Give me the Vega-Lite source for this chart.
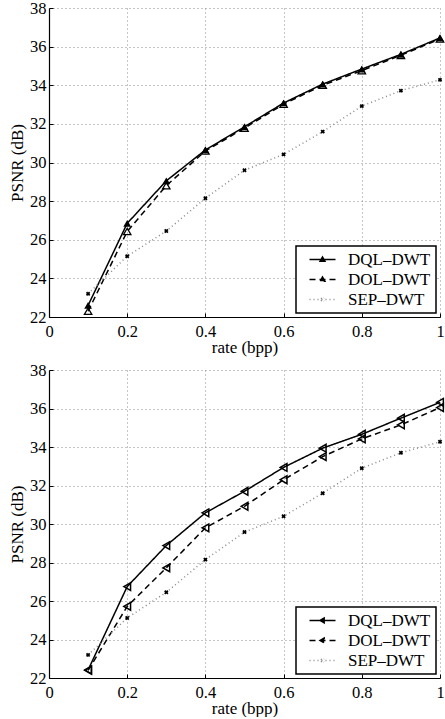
{
  "$schema": "https://vega.github.io/schema/vega-lite/v6.json",
  "padding": {"left": 8, "top": 0, "right": 0, "bottom": 0},
  "spacing": 6,
  "datasets": {
    "d": [
      {"panel": "a", "series": "DQL–DWT", "rate": 0.1, "psnr": 22.6},
      {"panel": "a", "series": "DQL–DWT", "rate": 0.2, "psnr": 26.85},
      {"panel": "a", "series": "DQL–DWT", "rate": 0.3, "psnr": 29.05},
      {"panel": "a", "series": "DQL–DWT", "rate": 0.4, "psnr": 30.65},
      {"panel": "a", "series": "DQL–DWT", "rate": 0.5, "psnr": 31.85},
      {"panel": "a", "series": "DQL–DWT", "rate": 0.6, "psnr": 33.08},
      {"panel": "a", "series": "DQL–DWT", "rate": 0.7, "psnr": 34.06},
      {"panel": "a", "series": "DQL–DWT", "rate": 0.8, "psnr": 34.84},
      {"panel": "a", "series": "DQL–DWT", "rate": 0.9, "psnr": 35.6},
      {"panel": "a", "series": "DQL–DWT", "rate": 1.0, "psnr": 36.45},
      {"panel": "a", "series": "DOL–DWT", "rate": 0.1, "psnr": 22.3},
      {"panel": "a", "series": "DOL–DWT", "rate": 0.2, "psnr": 26.43},
      {"panel": "a", "series": "DOL–DWT", "rate": 0.3, "psnr": 28.8},
      {"panel": "a", "series": "DOL–DWT", "rate": 0.4, "psnr": 30.6},
      {"panel": "a", "series": "DOL–DWT", "rate": 0.5, "psnr": 31.78},
      {"panel": "a", "series": "DOL–DWT", "rate": 0.6, "psnr": 33.02},
      {"panel": "a", "series": "DOL–DWT", "rate": 0.7, "psnr": 34.0},
      {"panel": "a", "series": "DOL–DWT", "rate": 0.8, "psnr": 34.76},
      {"panel": "a", "series": "DOL–DWT", "rate": 0.9, "psnr": 35.55},
      {"panel": "a", "series": "DOL–DWT", "rate": 1.0, "psnr": 36.4},
      {"panel": "a", "series": "SEP–DWT", "rate": 0.1, "psnr": 23.2},
      {"panel": "a", "series": "SEP–DWT", "rate": 0.2, "psnr": 25.15},
      {"panel": "a", "series": "SEP–DWT", "rate": 0.3, "psnr": 26.45},
      {"panel": "a", "series": "SEP–DWT", "rate": 0.4, "psnr": 28.15},
      {"panel": "a", "series": "SEP–DWT", "rate": 0.5, "psnr": 29.6},
      {"panel": "a", "series": "SEP–DWT", "rate": 0.6, "psnr": 30.42},
      {"panel": "a", "series": "SEP–DWT", "rate": 0.7, "psnr": 31.6},
      {"panel": "a", "series": "SEP–DWT", "rate": 0.8, "psnr": 32.92},
      {"panel": "a", "series": "SEP–DWT", "rate": 0.9, "psnr": 33.72},
      {"panel": "a", "series": "SEP–DWT", "rate": 1.0, "psnr": 34.28},
      {"panel": "b", "series": "DQL–DWT", "rate": 0.1, "psnr": 22.42},
      {"panel": "b", "series": "DQL–DWT", "rate": 0.2, "psnr": 26.75},
      {"panel": "b", "series": "DQL–DWT", "rate": 0.3, "psnr": 28.88},
      {"panel": "b", "series": "DQL–DWT", "rate": 0.4, "psnr": 30.58},
      {"panel": "b", "series": "DQL–DWT", "rate": 0.5, "psnr": 31.7},
      {"panel": "b", "series": "DQL–DWT", "rate": 0.6, "psnr": 32.94},
      {"panel": "b", "series": "DQL–DWT", "rate": 0.7, "psnr": 33.94},
      {"panel": "b", "series": "DQL–DWT", "rate": 0.8, "psnr": 34.66},
      {"panel": "b", "series": "DQL–DWT", "rate": 0.9, "psnr": 35.5},
      {"panel": "b", "series": "DQL–DWT", "rate": 1.0, "psnr": 36.32},
      {"panel": "b", "series": "DOL–DWT", "rate": 0.1, "psnr": 22.4},
      {"panel": "b", "series": "DOL–DWT", "rate": 0.2, "psnr": 25.72},
      {"panel": "b", "series": "DOL–DWT", "rate": 0.3, "psnr": 27.72},
      {"panel": "b", "series": "DOL–DWT", "rate": 0.4, "psnr": 29.8},
      {"panel": "b", "series": "DOL–DWT", "rate": 0.5, "psnr": 30.92},
      {"panel": "b", "series": "DOL–DWT", "rate": 0.6, "psnr": 32.3},
      {"panel": "b", "series": "DOL–DWT", "rate": 0.7, "psnr": 33.5},
      {"panel": "b", "series": "DOL–DWT", "rate": 0.8, "psnr": 34.42},
      {"panel": "b", "series": "DOL–DWT", "rate": 0.9, "psnr": 35.15},
      {"panel": "b", "series": "DOL–DWT", "rate": 1.0, "psnr": 36.05},
      {"panel": "b", "series": "SEP–DWT", "rate": 0.1, "psnr": 23.2},
      {"panel": "b", "series": "SEP–DWT", "rate": 0.2, "psnr": 25.12},
      {"panel": "b", "series": "SEP–DWT", "rate": 0.3, "psnr": 26.45},
      {"panel": "b", "series": "SEP–DWT", "rate": 0.4, "psnr": 28.15},
      {"panel": "b", "series": "SEP–DWT", "rate": 0.5, "psnr": 29.58},
      {"panel": "b", "series": "SEP–DWT", "rate": 0.6, "psnr": 30.4},
      {"panel": "b", "series": "SEP–DWT", "rate": 0.7, "psnr": 31.6},
      {"panel": "b", "series": "SEP–DWT", "rate": 0.8, "psnr": 32.9},
      {"panel": "b", "series": "SEP–DWT", "rate": 0.9, "psnr": 33.7},
      {"panel": "b", "series": "SEP–DWT", "rate": 1.0, "psnr": 34.27}
    ]
  },
  "resolve": {
    "scale": {"stroke": "independent", "strokeDash": "independent"},
    "legend": {"stroke": "independent", "strokeDash": "independent"}
  },
  "vconcat": [
    {
      "width": 391,
      "height": 309,
      "data": {"name": "d"},
      "transform": [{"filter": "datum.panel === 'a'"}],
      "encoding": {
        "x": {"field": "rate", "type": "quantitative", "title": "rate (bpp)",
          "scale": {"domain": [0, 1], "nice": false, "zero": false},
          "axis": {"values": [0, 0.2, 0.4, 0.6, 0.8, 1], "format": "~g"}},
        "y": {"field": "psnr", "type": "quantitative", "title": "PSNR (dB)",
          "scale": {"domain": [22, 38], "nice": false, "zero": false},
          "axis": {"values": [22, 24, 26, 28, 30, 32, 34, 36, 38]}}
      },
      "layer": [
        {
          "mark": {"type": "line", "strokeWidth": 1.5},
          "encoding": {
            "stroke": {"field": "series", "type": "nominal",
              "scale": {"domain": ["DQL–DWT", "DOL–DWT", "SEP–DWT"], "range": ["#000000", "#000000", "#8a8a8a"]},
              "legend": {
                "orient": "bottom-right", "offset": 4, "title": null,
                "padding": 5, "symbolOffset": 13, "rowPadding": 2, "labelOffset": 17,
                "symbolSize": 100, "symbolStrokeWidth": 1.5,
                "labelFontSize": 17, "labelFont": "Liberation Serif, Times New Roman, serif", "labelColor": "#000000",
                "strokeColor": "#000000", "fillColor": "#ffffff",
                "encode": {
                  "legend": {"update": {"strokeWidth": {"value": 1.5}}},
                  "symbols": {"update": {
                    "shape": {"signal": "datum.value === 'SEP–DWT' ? 'M-2.6,0L2.6,0M-0.3,-0.3L0.3,0.3M-0.3,0.3L0.3,-0.3' : 'M-2.6,0L2.6,0M0,-0.5L0.48,0.33L-0.48,0.33Z'"},
                    "fill": {"signal": "datum.value === 'SEP–DWT' ? 'transparent' : '#000000'"}
                  }}
                }
              }},
            "strokeDash": {"field": "series", "type": "nominal",
              "scale": {"domain": ["DQL–DWT", "DOL–DWT", "SEP–DWT"], "range": [[1, 0], [6, 4], [1, 3]]}}
          }
        },
        {
          "transform": [{"filter": "datum.series === 'DQL–DWT'"}],
          "mark": {"type": "point", "shape": "triangle-up", "filled": true, "color": "#000000", "size": 60, "opacity": 1}
        },
        {
          "transform": [{"filter": "datum.series === 'DOL–DWT'"}],
          "mark": {"type": "point", "shape": "triangle-up", "filled": false, "stroke": "#000000", "strokeWidth": 1.3, "size": 55, "opacity": 1}
        },
        {
          "transform": [{"filter": "datum.series === 'SEP–DWT'"}],
          "mark": {"type": "point", "shape": "cross", "angle": 45, "filled": true, "color": "#000000", "size": 20, "opacity": 1}
        }
      ]
    },
    {
      "width": 391,
      "height": 308,
      "data": {"name": "d"},
      "transform": [{"filter": "datum.panel === 'b'"}],
      "encoding": {
        "x": {"field": "rate", "type": "quantitative", "title": "rate (bpp)",
          "scale": {"domain": [0, 1], "nice": false, "zero": false},
          "axis": {"values": [0, 0.2, 0.4, 0.6, 0.8, 1], "format": "~g"}},
        "y": {"field": "psnr", "type": "quantitative", "title": "PSNR (dB)",
          "scale": {"domain": [22, 38], "nice": false, "zero": false},
          "axis": {"values": [22, 24, 26, 28, 30, 32, 34, 36, 38]}}
      },
      "layer": [
        {
          "mark": {"type": "line", "strokeWidth": 1.5},
          "encoding": {
            "stroke": {"field": "series", "type": "nominal",
              "scale": {"domain": ["DQL–DWT", "DOL–DWT", "SEP–DWT"], "range": ["#000000", "#000000", "#8a8a8a"]},
              "legend": {
                "orient": "bottom-right", "offset": 4, "title": null,
                "padding": 5, "symbolOffset": 13, "rowPadding": 2, "labelOffset": 17,
                "symbolSize": 100, "symbolStrokeWidth": 1.5,
                "labelFontSize": 17, "labelFont": "Liberation Serif, Times New Roman, serif", "labelColor": "#000000",
                "strokeColor": "#000000", "fillColor": "#ffffff",
                "encode": {
                  "legend": {"update": {"strokeWidth": {"value": 1.5}}},
                  "symbols": {"update": {
                    "shape": {"signal": "datum.value === 'SEP–DWT' ? 'M-2.6,0L2.6,0M-0.3,-0.3L0.3,0.3M-0.3,0.3L0.3,-0.3' : 'M-2.6,0L2.6,0M-0.5,0L0.33,-0.48L0.33,0.48Z'"},
                    "fill": {"signal": "datum.value === 'SEP–DWT' ? 'transparent' : '#000000'"}
                  }}
                }
              }},
            "strokeDash": {"field": "series", "type": "nominal",
              "scale": {"domain": ["DQL–DWT", "DOL–DWT", "SEP–DWT"], "range": [[1, 0], [6, 4], [1, 3]]}}
          }
        },
        {
          "transform": [{"filter": "datum.series === 'DQL–DWT'"}],
          "mark": {"type": "point", "shape": "triangle-left", "filled": false, "stroke": "#000000", "strokeWidth": 1.5, "size": 60, "opacity": 1}
        },
        {
          "transform": [{"filter": "datum.series === 'DOL–DWT'"}],
          "mark": {"type": "point", "shape": "triangle-left", "filled": false, "stroke": "#000000", "strokeWidth": 1.5, "size": 60, "opacity": 1}
        },
        {
          "transform": [{"filter": "datum.series === 'SEP–DWT'"}],
          "mark": {"type": "point", "shape": "cross", "angle": 45, "filled": true, "color": "#000000", "size": 20, "opacity": 1}
        }
      ]
    }
  ],
  "config": {
    "view": {"stroke": null},
    "font": "Liberation Serif, Times New Roman, serif",
    "axis": {
      "labelFont": "Liberation Serif, Times New Roman, serif", "labelFontSize": 16.5, "labelColor": "#000000",
      "titleFont": "Liberation Serif, Times New Roman, serif", "titleFontSize": 17, "titleFontWeight": "normal", "titleColor": "#000000",
      "domainColor": "#000000", "domainWidth": 1.2,
      "tickColor": "#000000", "tickSize": -4, "tickWidth": 1,
      "grid": true, "gridColor": "#8c8c8c", "gridDash": [1, 3], "gridWidth": 1,
      "labelFlush": false, "labelOverlap": false
    },
    "axisX": {"labelPadding": 10, "titlePadding": 0},
    "axisY": {"labelPadding": 7, "titlePadding": 3}
  }
}
